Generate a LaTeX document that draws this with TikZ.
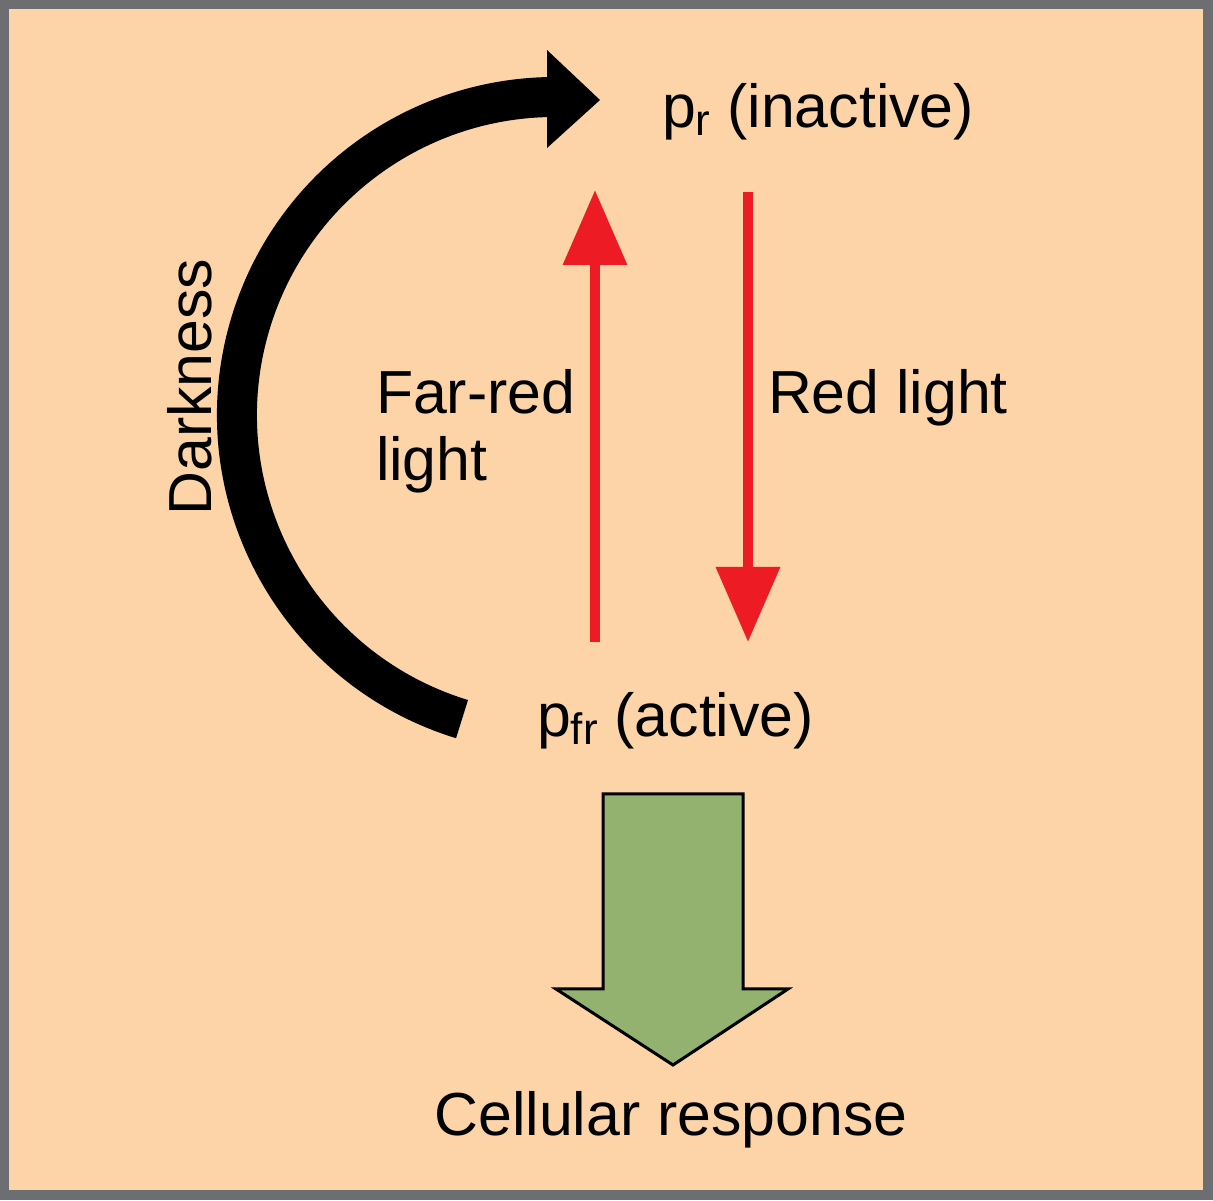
\documentclass[tikz,border=0pt]{standalone}
\usepackage{fontspec}
\setmainfont{Liberation Sans}
\usetikzlibrary{arrows.meta}
\definecolor{framegray}{HTML}{6D6E71}
\definecolor{peach}{HTML}{FDD4A8}
\definecolor{lightred}{HTML}{ED1C24}
\definecolor{leafgreen}{HTML}{93B16F}
\newcommand{\bigtxt}{\fontsize{60.8}{67}\selectfont}
\newcommand{\subtxt}[1]{\raisebox{-8pt}{\fontsize{44}{44}\selectfont #1}}
\begin{document}
\begin{tikzpicture}[x=1pt,y=1pt,
  lbl/.style={inner sep=0pt, outer sep=0pt, font=\bigtxt, text=black},
  redarrow/.style={draw=lightred, line width=10pt, -{Triangle[length=75pt,width=62pt]}},
  darkarc/.style={draw=black, line width=40pt, line cap=butt},
  greenarrow/.style={fill=leafgreen, draw=black, line width=3pt, line join=miter}]
\useasboundingbox (0,0) rectangle (1213,1200);
\fill[framegray] (0,0) rectangle (1213,1200);
\fill[peach] (9,10) rectangle (1203,1191);
% labels
\node[lbl, anchor=base west] (pr) at (662,1072) {p\subtxt{r} (inactive)};
\node[lbl, anchor=base west] (pfr) at (537,463) {p\subtxt{fr} (active)};
\node[lbl, anchor=base west] (farred) at (376,786) {Far-red};
\node[lbl, anchor=base west] (farredb) at (376,719) {light};
\node[lbl, anchor=base west] (redlight) at (768,786) {Red light};
\node[lbl, rotate=90] (dark) at (190,813) {Darkness};
\node[lbl, anchor=base] (resp) at (671,65) {Cellular response};
% red arrows
\coordinate (farStart) at (595,558);
\coordinate (farEnd) at (595,1010);
\coordinate (redStart) at (748,1008);
\coordinate (redEnd) at (748,558);
\draw[redarrow] (farStart) -- (farEnd);
\draw[redarrow] (redStart) -- (redEnd);
% darkness arc
\coordinate (arcC) at (555,785);
\draw[darkarc] (arcC) ++(253:318) arc[start angle=253, end angle=91, radius=318] coordinate (arcEnd);
\fill[black] (547,1150) -- (600,1100) -- (547,1052) -- cycle;
% green arrow
\draw[greenarrow] (603,406) -- (743,406) -- (743,211) -- (788,211) -- (673,135) -- (556,211) -- (603,211) -- cycle;
\end{tikzpicture}
\end{document}
